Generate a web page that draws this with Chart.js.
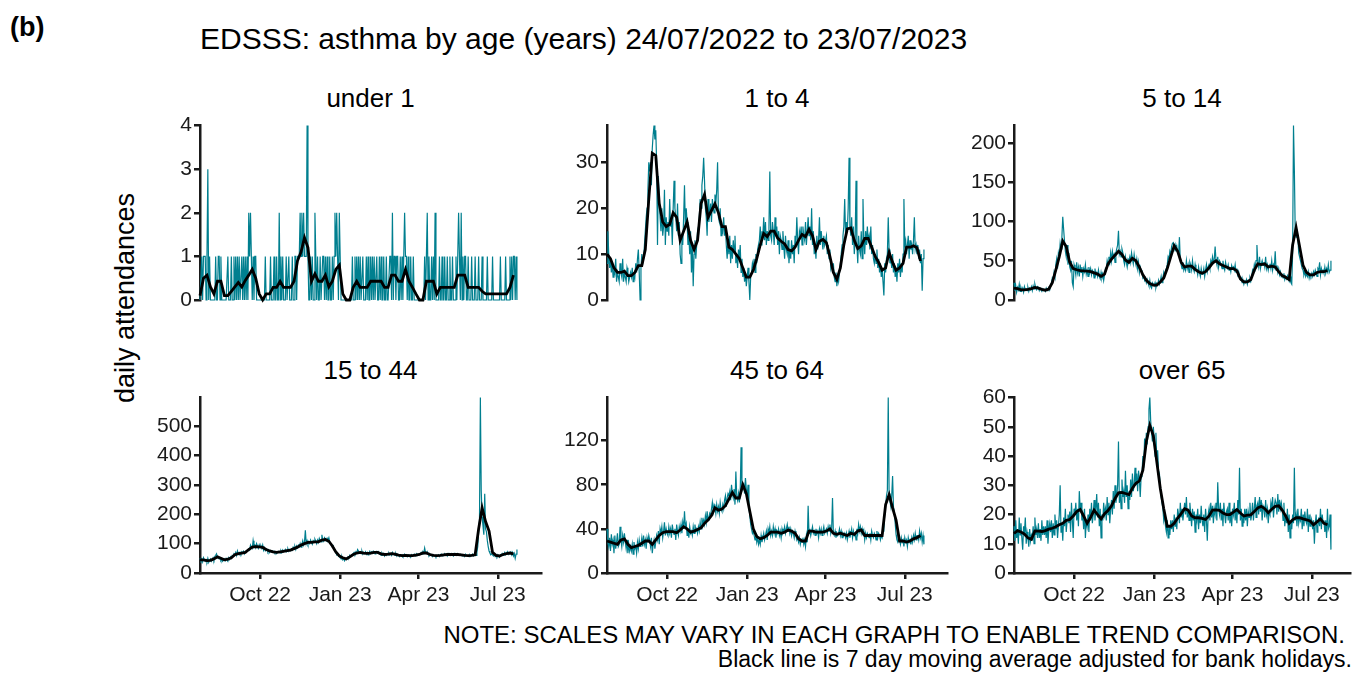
<!DOCTYPE html>
<html>
<head>
<meta charset="utf-8">
<script src="https://cdn.jsdelivr.net/npm/chart.js@4.4.0/dist/chart.umd.min.js"></script>
<style>
  html, body { margin: 0; padding: 0; background: #fff; }
  body { width: 1355px; height: 673px; position: relative; overflow: hidden; font-family: "Liberation Sans", Arial, sans-serif; color: #000; }
  .txt { position: absolute; white-space: nowrap; line-height: 1; }
  canvas { position: absolute; }
</style>
</head>
<body>
<div class="txt" style="left:10px; top:14px; font-size:27px; font-weight:bold">(b)</div>
<div class="txt" style="left:200px; top:24px; font-size:30px">EDSSS: asthma by age (years) 24/07/2022 to 23/07/2023</div>
<div class="txt" style="left:125px; top:298px; font-size:27px; transform:translate(-50%,-50%) rotate(-90deg)">daily attendances</div>
<div class="txt" style="right:10px; top:623px; font-size:24px">NOTE: SCALES MAY VARY IN EACH GRAPH TO ENABLE TREND COMPARISON.</div>
<div class="txt" style="right:3px; top:648px; font-size:23px">Black line is 7 day moving average adjusted for bank holidays.</div>
<script>
// Daily counts start 24/07/2022 (day 0) and run to 23/07/2023 (day 364).
// Moving-average values every 4 days.
const xTickDays = [69, 161, 251, 342];
const xTickLabels = ["Oct 22", "Jan 23", "Apr 23", "Jul 23"];
const maStepDays = 4;

const panelTitles = ["under 1", "1 to 4", "5 to 14", "15 to 44", "45 to 64", "over 65"];
const yTicks = [[0, 1, 2, 3, 4], [0, 10, 20, 30], [0, 50, 100, 150, 200], [0, 100, 200, 300, 400, 500], [0, 40, 80, 120], [0, 10, 20, 30, 40, 50, 60]];
const yMax = [4, 38, 222, 597, 159, 60];

const under1Daily = [
  0,0,1,0,1,1,1, 0,1,3,0,1,0,0, 0,0,0,0,1,0,0, 1,1,0,1,0,0,0,
  0,0,0,0,1,0,0, 0,1,0,0,1,0,1, 0,1,0,1,0,0,1, 0,1,0,1,0,1,0,
  2,1,2,1,0,1,0, 1,1,0,0,0,0,0, 0,0,0,0,0,1,0, 0,0,0,0,1,0,0,
  0,1,0,0,1,0,0, 2,0,1,0,1,0,0, 0,1,0,0,1,0,0, 0,1,0,0,1,1,0,
  1,1,1,2,1,2,1, 2,1,1,1,4,1,0, 0,1,0,1,0,0,2, 1,0,1,0,0,1,0,
  0,1,1,0,1,0,1, 0,0,1,0,0,1,0, 1,2,1,2,1,0,2, 1,0,0,0,0,0,0,
  0,0,0,0,0,0,0, 1,0,0,1,0,1,0, 1,0,1,0,0,1,0, 0,0,1,0,1,0,0,
  1,0,1,0,1,0,0, 1,0,0,1,0,1,0, 0,1,0,0,1,0,0, 0,1,1,0,2,0,1,
  1,0,1,1,0,0,1, 0,1,0,1,2,1,1, 0,1,0,0,1,0,0, 1,0,0,0,0,0,0,
  0,0,0,0,0,0,1, 0,1,2,0,1,0,0, 1,0,1,0,2,0,0, 0,0,1,0,0,1,0,
  0,1,0,0,1,0,0, 1,0,0,1,0,0,0, 1,0,1,2,1,0,2, 0,1,0,1,1,0,0,
  1,0,0,0,1,0,0, 0,1,0,0,0,1,0, 0,0,1,0,0,0,0, 0,1,0,0,0,0,0,
  1,0,0,0,0,0,0, 0,0,1,0,0,0,0, 0,1,0,0,0,0,1, 0,1,0,1,1,0,1,
  0,
];
const under1MA = [
  0.1, 0.5, 0.57, 0.3, 0.14, 0.43, 0.43, 0.1, 0.1, 0.2,
  0.3, 0.4, 0.3, 0.45, 0.57, 0.7, 0.5, 0.14, 0, 0.14,
  0.14, 0.29, 0.29, 0.43, 0.29, 0.29, 0.29, 0.43, 0.9, 1.1,
  1.43, 1.2, 0.43, 0.6, 0.43, 0.43, 0.57, 0.3, 0.43, 0.7,
  0.8, 0.14, 0, 0, 0.29, 0.43, 0.29, 0.29, 0.29, 0.43,
  0.43, 0.43, 0.43, 0.29, 0.29, 0.57, 0.57, 0.43, 0.43, 0.7,
  0.43, 0.29, 0.14, 0, 0, 0.43, 0.43, 0.43, 0.14, 0.29,
  0.29, 0.29, 0.29, 0.29, 0.57, 0.57, 0.57, 0.29, 0.29, 0.29,
  0.29, 0.2, 0.14, 0.14, 0.14, 0.14, 0.14, 0.14, 0.14, 0.29,
  0.57,
];

const age1to4Daily = [
  8,15,10,7,9,6,8, 5,7,6,9,4,6,5, 4,8,6,5,9,4,6, 5,4,7,6,4,5,6,
  5,7,4,6,5,8,6, 9,11,6,0,7,10,8, 9,12,15,18,20,24,30, 28,30,25,33,36,38,35,
  37,30,12,27,22,18,15, 20,14,16,24,12,18,15, 17,14,22,16,18,12,20, 26,20,18,15,21,14,17,
  10,8,14,12,18,25,16, 20,17,12,14,10,15,6, 12,3,10,13,9,12,15, 14,18,22,20,25,27,31,
  26,20,18,14,22,17,19, 21,17,22,20,19,23,21, 24,30,18,17,20,14,16, 15,18,14,16,12,9,13,
  10,14,8,12,9,13,11, 14,8,10,7,11,9,12, 6,9,5,7,4,6,3, 5,7,4,0,5,6,8,
  7,9,6,10,8,11,12, 13,16,12,15,14,18,13, 17,12,15,13,16,28,14, 13,17,15,12,18,14,16,
  12,15,10,14,13,11,15, 12,9,14,11,10,13,8, 11,9,13,10,12,8,14, 12,18,13,10,15,14,16,
  12,16,14,13,17,12,15, 18,14,16,13,20,12,15, 10,12,9,14,11,13,18, 12,15,13,11,14,12,13,
  14,10,12,9,11,7,8, 6,8,5,4,6,3,5, 4,6,8,10,12,14,16, 22,14,17,15,20,31,16,
  14,18,12,16,10,13,26, 12,8,14,11,10,15,9, 22,13,10,15,12,16,13, 14,11,16,10,12,9,8,
  10,8,11,7,9,6,8, 5,7,4,1,8,6,9, 10,18,11,8,9,7,10, 6,8,5,7,4,8,6,
  9,5,8,6,10,22,12, 13,10,12,14,9,13,11, 12,10,13,18,11,12,10, 12,9,11,8,10,2,9,
  11,
];
const age1to4MA = [
  10, 9, 7, 6, 6, 6.3, 5.3, 5.3, 6, 7.5,
  7.5, 11, 22, 32, 31.5, 21, 17, 16, 16.5, 19,
  18, 13, 15, 17, 13, 11, 13, 21, 23, 18,
  19.5, 21, 19, 16, 16, 11.5, 11, 10, 9, 7,
  5, 5, 6.5, 9, 12, 14.5, 13.8, 15, 15, 13.5,
  12.8, 12.2, 11, 10.7, 11.5, 13, 14.3, 13.8, 15.4, 14,
  11, 12.8, 13.2, 12.5, 9.5, 6, 4.5, 7, 12, 15.5,
  15.7, 13, 11.2, 11.8, 13.4, 13.4, 11.5, 9.5, 8.2, 6.5,
  7, 10.4, 8.2, 6.5, 7, 8, 11.5, 11.5, 11.8, 11.4,
  8.5,
];

const age5to14Daily = [
  22,12,18,10,16,13,20, 11,16,12,15,10,17,13, 14,12,16,11,15,13,17, 12,18,14,20,15,13,17,
  16,12,15,13,11,14,12, 13,11,15,12,14,16,13, 18,22,28,25,35,30,45, 52,40,60,55,72,65,80,
  106,90,75,62,55,70,45, 60,42,38,50,22,17,45, 40,32,48,35,42,30,45, 35,42,30,40,36,45,33,
  38,30,42,35,40,32,38, 36,28,40,32,35,30,38, 30,27,35,28,33,25,32, 40,38,50,45,55,48,60,
  50,62,55,58,48,60,65, 70,88,58,62,55,65,60, 50,45,55,48,42,52,50, 55,48,60,52,46,58,50,
  45,52,40,48,35,42,38, 35,28,30,25,28,22,26, 22,18,25,17,15,22,20, 18,22,16,21,19,25,20,
  24,30,22,28,35,30,38, 40,45,55,52,62,58,68, 72,73,65,70,62,68,60, 58,80,50,45,40,48,38,
  42,38,50,40,45,35,48, 44,38,50,40,36,45,38, 38,32,42,35,30,40,33, 34,40,30,38,45,36,42,
  45,40,50,46,55,48,52, 68,50,45,55,42,50,48, 44,40,50,42,38,48,42, 40,45,38,42,36,44,40,
  42,38,45,35,40,32,36, 30,26,28,22,25,20,24, 22,26,20,25,23,28,24, 30,38,35,45,40,50,70,
  48,42,55,40,46,50,44, 48,42,55,40,45,38,44, 46,40,50,38,45,42,62, 38,44,35,40,32,36,30,
  32,28,34,26,30,27,31, 27,24,30,22,20,60,222, 165,85,80,90,80,60,55, 50,45,40,38,32,36,30,
  34,30,36,28,33,30,34, 30,36,32,38,34,30,40, 38,48,32,40,35,38,34, 42,34,40,36,45,35,38,
  50,
];
const age5to14MA = [
  15, 14.5, 13, 13, 13.5, 14.5, 16, 15, 13.5, 12.5,
  14, 22, 38, 55, 75, 68, 48, 40, 38.5, 37.5,
  37, 36.7, 36, 34.5, 33, 30, 33, 46, 52, 57,
  62, 58, 51, 48, 53, 50, 42, 32, 25, 21,
  19, 19, 23, 28, 40, 55, 69, 62, 48, 42,
  43, 43, 39, 36, 34, 36, 41, 47, 50, 46,
  44, 42, 40, 40, 37, 27, 23, 23, 26, 38,
  46, 45, 46, 42, 43, 42, 36, 31, 29, 26,
  70, 92, 68, 44, 35, 32, 32, 35, 36, 36,
  37.5,
];

const age15to44Daily = [
  50,42,48,38,52,45,40, 45,38,50,36,44,48,40, 46,52,44,56,60,65,52, 55,48,50,42,46,40,44,
  48,42,50,45,40,52,46, 55,50,60,58,65,62,70, 60,75,66,62,70,64,72, 68,74,65,72,70,76,80,
  82,78,95,88,84,110,90, 95,86,100,92,84,96,88, 92,84,95,78,86,76,82, 80,72,78,70,76,72,75,
  70,74,68,72,66,70,74, 72,68,76,70,78,72,75, 80,72,78,82,74,80,76, 82,78,88,84,90,80,92,
  86,95,90,100,88,98,110, 95,105,145,100,110,98,106, 100,112,104,98,110,106,115, 108,100,112,104,118,110,106,
  130,112,108,120,116,110,118, 112,120,105,100,95,88,92, 80,75,70,62,68,58,55, 52,48,55,45,50,42,48,
  46,50,55,52,60,56,62, 60,66,70,64,72,68,80, 75,68,72,66,74,64,70, 66,72,64,70,62,68,74,
  66,72,68,74,70,65,72, 74,68,72,64,66,60,68, 62,66,58,64,60,66,62, 68,62,66,60,70,64,62,
  60,66,58,64,62,56,60, 58,62,56,60,64,58,62, 56,62,58,60,54,62,58, 60,64,58,62,66,60,64,
  62,66,70,64,72,68,85, 70,66,72,64,60,66,62, 60,56,62,58,60,55,60, 58,62,56,60,64,58,62,
  60,66,62,64,58,66,62, 64,60,66,62,58,66,62, 64,60,66,62,60,64,62, 58,62,60,56,64,60,58,
  60,56,62,58,60,64,58, 62,66,60,70,90,140,180, 597,280,190,160,130,270,150, 140,110,90,75,68,62,65,
  62,58,64,56,60,55,62, 58,54,62,60,66,60,64, 70,62,66,72,64,70,68, 72,62,70,58,66,50,64,
  80,
];
const age15to44MA = [
  45, 45, 42, 43, 48, 55, 50, 45, 47, 52,
  62, 66, 68, 70, 80, 88, 90, 89, 87, 80,
  75, 72, 70, 72, 74, 76, 78, 83, 88, 95,
  100, 104, 104, 106, 106, 112, 114, 108, 92, 72,
  58, 52, 48, 55, 63, 68, 70, 68, 67, 68,
  70, 70, 65, 63, 64, 66, 64, 61, 59, 60,
  59, 59, 61, 63, 68, 68, 63, 60, 59, 60,
  62, 63, 63, 63, 63, 62, 60, 59, 60, 62,
  150, 222, 175, 143, 70, 60, 58, 63, 66, 68,
  65,
];

const age45to64Daily = [
  40,28,24,32,20,35,26, 30,18,34,22,28,36,24, 26,42,30,24,34,28,36, 28,22,30,18,26,20,24,
  20,26,17,28,22,24,18, 28,22,30,24,26,32,24, 34,26,30,22,32,28,34, 30,24,32,18,26,30,22,
  28,34,30,38,26,40,36, 42,32,38,46,34,40,36, 34,42,36,40,32,44,38, 35,40,30,44,38,34,42,
  38,44,36,46,40,56,42, 45,34,40,32,42,36,38, 34,42,36,44,38,40,36, 42,38,46,40,50,44,48,
  44,52,46,56,48,50,54, 52,58,64,56,62,60,54, 62,56,60,54,64,58,56, 62,58,66,70,60,68,72,
  70,74,66,80,72,68,76, 62,92,70,66,72,64,74, 114,75,78,80,72,86,76, 70,80,60,52,44,40,36,
  38,34,30,36,28,32,26, 30,26,34,28,32,36,30, 34,38,30,40,36,42,34, 38,34,42,36,40,32,38,
  36,40,34,38,32,40,36, 38,42,36,40,44,38,42, 36,40,34,38,36,32,38, 34,30,32,28,32,26,30,
  28,32,26,30,24,34,28, 61,36,40,34,38,42,36, 38,34,40,36,38,32,40, 36,40,34,38,42,36,38,
  40,36,42,38,44,36,40, 68,36,34,38,32,36,34, 36,40,34,38,32,36,34, 36,32,36,30,34,38,32,
  36,40,32,38,34,36,30, 40,36,44,38,42,36,40, 34,38,30,36,32,36,34, 32,36,30,38,34,32,36,
  34,30,38,32,36,34,30, 34,32,38,40,55,62,70, 75,159,72,65,60,70,88, 60,55,45,35,30,28,32,
  30,26,32,28,30,24,32, 28,30,24,32,28,30,26, 32,28,34,30,36,30,34, 34,30,38,32,36,28,34,
  26,
];
const age45to64MA = [
  29, 28, 27, 26, 30, 31, 26, 23, 24, 25,
  27, 29, 29, 26, 30, 34, 36.5, 37.5, 37.5, 37.5,
  36.5, 39, 42, 40, 37, 38, 39.5, 41, 45, 48,
  52, 59, 57, 58, 61, 67, 73, 68, 68, 80,
  72, 56, 40, 33, 31, 32, 34, 37, 37, 37,
  36, 37, 39, 38, 36, 31, 29, 29, 38, 38,
  37, 37, 37, 38, 40, 36, 35, 36, 35, 34,
  36, 35, 38, 39, 34, 34, 34, 34, 34, 34,
  62, 71, 59, 48, 29, 29, 28, 29, 31, 32,
  34,
];

const over65Daily = [
  16,11,18,12,15,10,19, 13,17,12,8,16,14,19, 10,14,12,9,15,11,13, 12,16,10,19,13,15,12,
  17,12,15,11,18,13,16, 13,16,12,18,10,15,17, 14,18,12,17,13,20,15, 18,12,16,20,30,14,17,
  11,19,16,22,14,18,20, 17,21,14,24,18,12,22, 20,24,18,22,16,28,22, 24,18,20,15,22,12,18,
  16,20,14,22,18,24,17, 20,25,18,22,27,19,24, 16,22,12,20,18,24,20, 22,18,26,20,24,17,22,
  25,20,28,22,30,24,26, 30,45,24,28,22,32,26, 28,24,35,26,30,22,28, 25,32,26,34,28,30,36,
  30,34,28,35,32,26,33, 34,40,36,46,42,48,44, 50,56,60,52,48,45,50, 46,40,48,38,42,35,34,
  30,26,24,22,18,20,16, 14,18,12,16,13,18,15, 18,14,20,16,19,15,22, 20,17,24,19,22,18,21,
  24,20,26,19,22,18,24, 20,16,22,18,21,14,20, 18,22,15,20,17,23,18, 16,20,14,22,18,11,20,
  22,18,24,19,23,17,22, 20,24,18,31,22,20,24, 18,22,16,24,20,17,21, 22,18,24,17,21,16,22,
  20,24,18,22,17,25,20, 36,18,22,16,20,17,22, 18,22,16,21,19,24,18, 20,24,18,22,26,19,23,
  24,20,26,21,25,18,23, 22,19,25,20,22,17,21, 20,24,22,26,19,23,25, 24,20,27,21,25,22,24,
  22,18,24,16,20,17,22, 14,20,12,18,15,20,17, 36,18,20,16,22,17,19, 18,22,15,20,16,21,18,
  17,22,14,20,16,19,18, 15,18,10,17,20,14,16, 19,16,22,15,20,17,18, 14,18,12,22,15,16,20,
  8,
];
const over65MA = [
  13.5, 14.5, 14, 13.3, 12, 11.5, 14.4, 14.3, 14.2, 14.5,
  15, 15.3, 15.8, 16.5, 17, 18, 18.3, 19.5, 21, 21.7,
  19.5, 17, 19, 21.5, 20, 18.5, 20.3, 21.4, 23, 25.5,
  27.4, 27.6, 27.2, 26.8, 29, 30.7, 31.5, 35.2, 45, 50.5,
  47, 38, 29, 22, 16, 16, 17, 18.8, 20.3, 22,
  21.5, 19.5, 18.9, 18.9, 18.7, 18.3, 19.5, 21.5, 21.6, 21.4,
  20.5, 20, 20, 20.8, 21.7, 20.5, 19.5, 19.8, 19.9, 21,
  22.3, 22.8, 22, 20.6, 21.8, 22.8, 23, 21.5, 19.5, 17,
  18.2, 18.9, 18.9, 18.5, 18.2, 17.8, 16.5, 17.5, 18.5, 17,
  16.5,
];

const dailySeries = [under1Daily, age1to4Daily, age5to14Daily, age15to44Daily, age45to64Daily, over65Daily];
const maSeries = [under1MA, age1to4MA, age5to14MA, age15to44MA, age45to64MA, over65MA];

// Page layout (pixels): plot areas of the 3x2 grid.
const TEAL = "#007f8f";
const AXIS = "#1a1a1a";
const FONT = '"Liberation Sans", Arial, sans-serif';
const PX_PER_DAY = 0.8707;
const cols = [{ axisX: 200, right: 541 }, { axisX: 607, right: 947 }, { axisX: 1014, right: 1350 }];
const rows = [{ top: 123, bottom: 300, titleTop: 85 }, { top: 395, bottom: 573, titleTop: 357 }];
const PAD_TOP = 12, PAD_RIGHT = 5, Y_W = 70, X_H = 45;

function drawPanel(i) {
  const col = cols[i % 3];
  const row = rows[Math.floor(i / 3)];
  const bottomRow = i >= 3;

  const title = document.createElement("div");
  title.className = "txt";
  title.textContent = panelTitles[i];
  title.style.cssText = `left:${(col.axisX + col.right) / 2}px; top:${row.titleTop}px; font-size:26px; transform:translateX(-50%)`;
  document.body.appendChild(title);

  const canvas = document.createElement("canvas");
  canvas.width = Y_W + (col.right - col.axisX) + PAD_RIGHT;
  canvas.height = PAD_TOP + (row.bottom - row.top) + X_H;
  canvas.style.left = (col.axisX - Y_W) + "px";
  canvas.style.top = (row.top - PAD_TOP) + "px";
  document.body.appendChild(canvas);

  const tickFont = { family: FONT, size: 21 };
  new Chart(canvas, {
    type: "line",
    data: {
      datasets: [
        { data: maSeries[i].map((v, k) => ({ x: k * maStepDays, y: v })), borderColor: "#000", borderWidth: 2.8, clip: 4 },
        { data: dailySeries[i].map((v, k) => ({ x: k, y: v })), borderColor: TEAL, borderWidth: 1.2, clip: 4 },
      ],
    },
    options: {
      responsive: false,
      animation: false,
      devicePixelRatio: 1,
      layout: { padding: { top: PAD_TOP, right: PAD_RIGHT, left: 0, bottom: 0 } },
      elements: { point: { radius: 0 }, line: { tension: 0, fill: false } },
      plugins: { legend: { display: false }, tooltip: { enabled: false } },
      scales: {
        x: {
          type: "linear",
          min: 0,
          max: (col.right - col.axisX) / PX_PER_DAY,
          afterBuildTicks: (s) => { s.ticks = xTickDays.map((v) => ({ value: v })); },
          afterFit: (s) => { s.height = X_H; },
          border: { display: bottomRow, color: AXIS, width: 2.5 },
          grid: { display: bottomRow, drawOnChartArea: false, drawTicks: true, tickLength: 6, color: AXIS, lineWidth: 2.5 },
          ticks: { display: bottomRow, autoSkip: false, maxRotation: 0, padding: 4, font: tickFont, color: AXIS, callback: (v, idx) => xTickLabels[idx] },
        },
        y: {
          min: 0,
          max: yMax[i],
          afterBuildTicks: (s) => { s.ticks = yTicks[i].map((v) => ({ value: v })); },
          afterFit: (s) => { s.width = Y_W; },
          border: { display: true, color: AXIS, width: 2.5 },
          grid: { display: true, drawOnChartArea: false, drawTicks: true, tickLength: 6, color: AXIS, lineWidth: 2.5 },
          ticks: { padding: 2, font: tickFont, color: AXIS },
        },
      },
    },
  });
}

for (let i = 0; i < 6; i++) drawPanel(i);
</script>
</body>
</html>
